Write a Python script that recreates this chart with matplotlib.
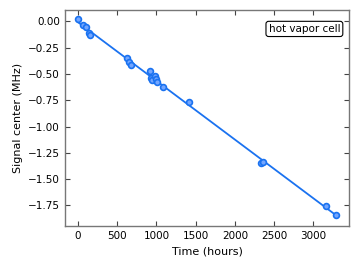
import numpy as np
import matplotlib
matplotlib.use('Agg')
import matplotlib.pyplot as plt

# measured signal center vs elapsed time
time_hours = [0, 68, 98, 145, 153, 630, 651, 676, 914, 935, 948, 978, 991, 1012,
              1080, 1420, 2338, 2356, 3163, 3291]
signal_mhz = [0.02, -0.038, -0.057, -0.11, -0.127, -0.352, -0.384, -0.41, -0.467,
              -0.536, -0.555, -0.517, -0.543, -0.58, -0.628, -0.765, -1.349,
              -1.339, -1.755, -1.844]

color = '#1a72f0'

# linear drift fit
coef = np.polyfit(time_hours, signal_mhz, 1)
t_fit = np.array([min(time_hours), max(time_hours)])

fig, ax = plt.subplots(figsize=(3.59, 2.68), dpi=100)
ax.plot(time_hours, signal_mhz, 'o', ms=4.2, mec=color, mfc=(0.45, 0.65, 1.0), mew=1.2, zorder=3)
ax.plot(t_fit, np.polyval(coef, t_fit), '-', color=color, lw=1.3)

ax.set_xlim(-166, 3460)
ax.set_ylim(-1.946, 0.11)
ax.set_xticks([0, 500, 1000, 1500, 2000, 2500, 3000])
ax.set_yticks([0.0, -0.25, -0.5, -0.75, -1.0, -1.25, -1.5, -1.75])
ax.tick_params(direction='in', top=True, right=True, labelsize=7.5, length=3.5, width=0.8, colors='#444444', labelcolor='black')
for s in ax.spines.values():
    s.set_color('#777777')
    s.set_linewidth(1.0)

ax.set_xlabel('Time (hours)', fontsize=8)
ax.set_ylabel('Signal center (MHz)', fontsize=8)
ax.text(0.968, 0.912, 'hot vapor cell', transform=ax.transAxes, ha='right', va='center', fontsize=7.5,
        bbox=dict(boxstyle='round,pad=0.25', fc='white', ec='black', lw=0.8))

plt.subplots_adjust(left=0.181, right=0.973, top=0.963, bottom=0.157)
plt.savefig('out.png', dpi=100)
